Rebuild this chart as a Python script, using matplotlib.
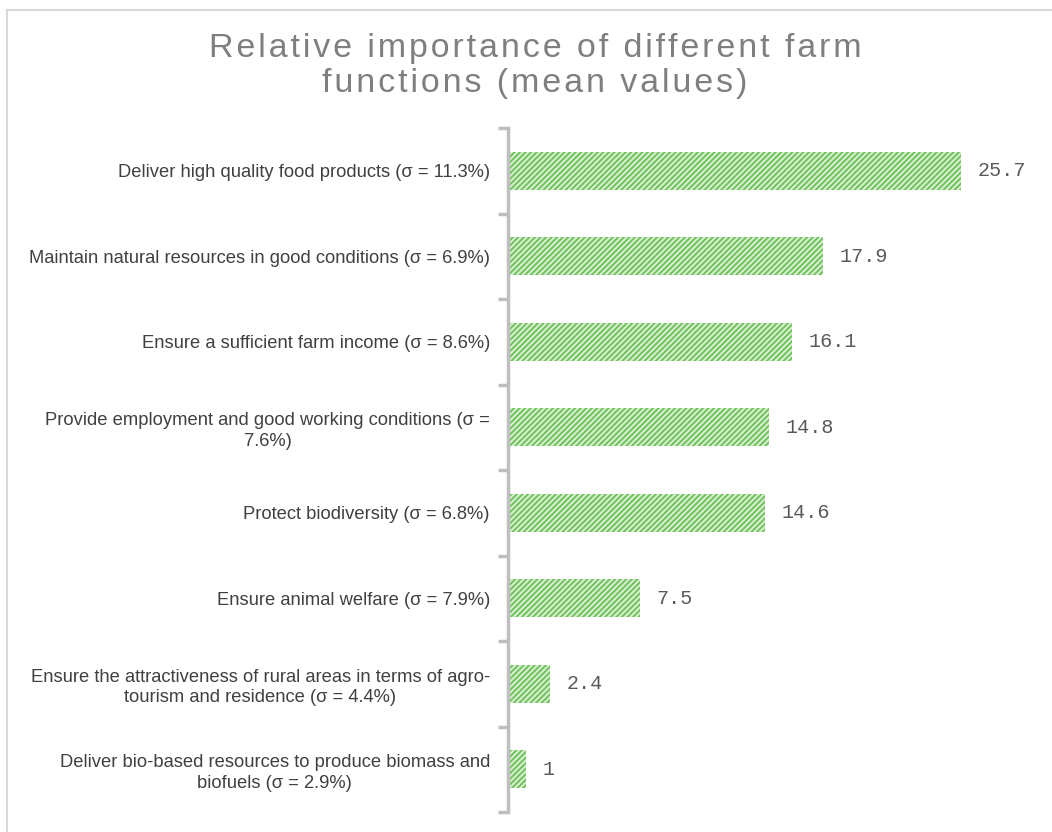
import matplotlib
matplotlib.use("Agg")
from matplotlib import pyplot as plt
from matplotlib.lines import Line2D
import numpy as np

categories = [
    "Deliver high quality food products (σ = 11.3%)",
    "Maintain natural resources in good conditions (σ = 6.9%)",
    "Ensure a sufficient farm income (σ = 8.6%)",
    "Provide employment and good working conditions (σ =\n7.6%)",
    "Protect biodiversity (σ = 6.8%)",
    "Ensure animal welfare (σ = 7.9%)",
    "Ensure the attractiveness of rural areas in terms of agro-\ntourism and residence (σ = 4.4%)",
    "Deliver bio-based resources to produce biomass and\nbiofuels (σ = 2.9%)",
]
values = [25.7, 17.9, 16.1, 14.8, 14.6, 7.5, 2.4, 1]
value_labels = ["25.7", "17.9", "16.1", "14.8", "14.6", "7.5", "2.4", "1"]
title_lines = ["Relative importance of different farm", "functions (mean values)"]

plt.rcParams["hatch.linewidth"] = 1.3

fig = plt.figure(figsize=(10.52, 8.32), dpi=100)
W, H = 1052, 832
ax = fig.add_axes([508 / W, 1 - 812 / H, (1040 - 508) / W, (812 - 128) / H])

y = np.arange(len(values))
ax.barh(y, values, height=0.45, color="#d6efcc", edgecolor="#6cbf5a",
        hatch="//////", linewidth=0)
ax.set_ylim(len(values) - 0.5, -0.5)
ax.set_xlim(0, 30.2)

for yi, v, lab in zip(y, values, value_labels):
    ax.text(v + 0.95, yi, lab, va="center", ha="left", fontsize=14.5,
            family="Liberation Mono", color="#595959")

ax.set_yticks(np.arange(len(values) + 1) - 0.5)
ax.set_yticklabels([])
ax.set_yticks(y, minor=True)
ax.set_yticklabels(categories, minor=True, fontsize=13.2, family="Liberation Sans",
                   color="#404040", multialignment="center", linespacing=1.25)
ax.tick_params(axis="y", which="minor", length=0, pad=13)
ax.tick_params(axis="y", which="major", length=7, width=2.5, color="#bfbfbf")
ax.set_xticks([])
for s in ["top", "right", "bottom"]:
    ax.spines[s].set_visible(False)
ax.spines["left"].set_color("#bfbfbf")
ax.spines["left"].set_linewidth(2.5)

# letter-spaced title
spaced = "\n".join("\u200a".join(line) for line in title_lines)
fig.text(535 / W, 1 - 66 / H, spaced, ha="center", va="center", fontsize=24.5,
         color="#7f7f7f", family=["Liberation Sans", "DejaVu Sans"], linespacing=1.2)

# outer frame
fig.add_artist(Line2D([7 / W, 1], [1 - 10 / H, 1 - 10 / H], color="#d9d9d9", lw=1.5,
                      transform=fig.transFigure))
fig.add_artist(Line2D([7 / W, 7 / W], [0, 1 - 10 / H], color="#d9d9d9", lw=1.5,
                      transform=fig.transFigure))

fig.savefig("out.png", dpi=100)
